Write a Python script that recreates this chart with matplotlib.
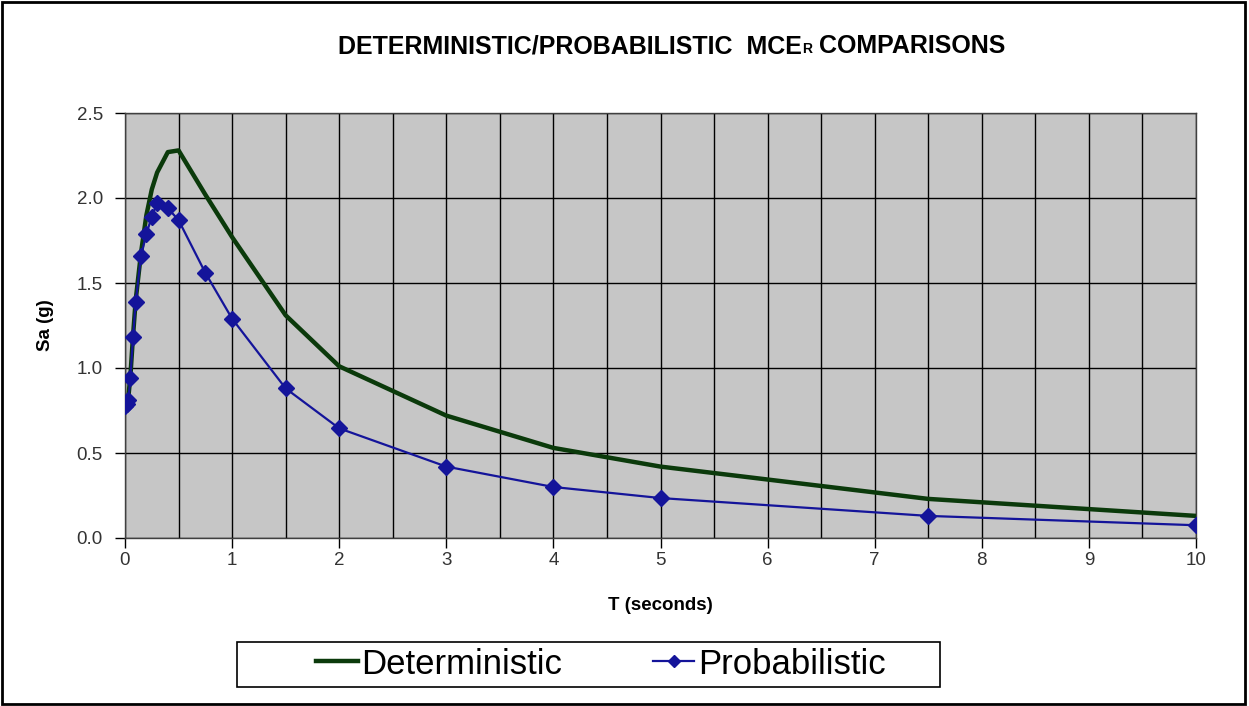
import matplotlib
matplotlib.use("Agg")
import matplotlib.pyplot as plt
from matplotlib.ticker import MultipleLocator
from matplotlib.patches import Rectangle

# Data
periods_det = [0.0, 0.02, 0.03, 0.05, 0.075, 0.1, 0.15, 0.2, 0.25, 0.3, 0.4, 0.5,
               0.75, 1.0, 1.5, 2.0, 3.0, 4.0, 5.0, 7.5, 10.0]
sa_det = [0.78, 0.79, 0.82, 0.95, 1.19, 1.40, 1.68, 1.90, 2.05, 2.15, 2.27, 2.28,
          2.02, 1.77, 1.31, 1.01, 0.72, 0.53, 0.42, 0.23, 0.13]
periods_prob = [0.0, 0.02, 0.03, 0.05, 0.075, 0.1, 0.15, 0.2, 0.25, 0.3, 0.4, 0.5,
                0.75, 1.0, 1.5, 2.0, 3.0, 4.0, 5.0, 7.5, 10.0]
sa_prob = [0.775, 0.79, 0.81, 0.94, 1.18, 1.39, 1.66, 1.79, 1.89, 1.97, 1.94, 1.87,
           1.56, 1.29, 0.88, 0.645, 0.42, 0.30, 0.235, 0.13, 0.075]
x_ticks = list(range(0, 11))
y_ticks = [0.0, 0.5, 1.0, 1.5, 2.0, 2.5]

plt.rcParams['font.family'] = ['Liberation Sans', 'DejaVu Sans']

W, H = 1249, 706
fig = plt.figure(figsize=(W/100, H/100), dpi=100)
ax = fig.add_axes([125/W, 1 - 538/H, (1196-125)/W, (538-113)/H])
ax.set_facecolor('#C6C6C6')

ax.plot(periods_det, sa_det, color='#0B3A0B', lw=3.2, label='Deterministic', zorder=3)
ax.plot(periods_prob, sa_prob, color='#14149A', lw=1.6, marker='D', ms=8,
        markerfacecolor='#14149A', markeredgecolor='#14149A', label='Probabilistic', zorder=4)

ax.set_xlim(0, 10)
ax.set_ylim(0, 2.5)
ax.set_xticks(x_ticks)
ax.set_yticks(y_ticks)
ax.set_yticklabels([f"{v:.1f}" for v in y_ticks])
ax.xaxis.set_minor_locator(MultipleLocator(0.5))
ax.grid(which='both', axis='x', color='black', lw=1.0, zorder=1)
ax.grid(which='major', axis='y', color='black', lw=1.0, zorder=1)
ax.tick_params(axis='x', which='minor', length=0)
ax.tick_params(axis='both', which='major', direction='out', length=7, width=1,
               labelsize=13.5, colors='black', labelcolor='#333333')
ax.tick_params(axis='x', pad=3)
ax.tick_params(axis='y', pad=9)
ax.set_axisbelow(True)
for s in ax.spines.values():
    s.set_color('#404040')
    s.set_linewidth(1)

ax.set_xlabel('T (seconds)', fontsize=13.5, fontweight='bold', labelpad=20)
ax.set_ylabel('Sa (g)', fontsize=13.5, fontweight='bold', labelpad=16)

# Title composed of pieces (small "R" after MCE, sitting on the baseline)
fig.canvas.draw()
renderer = fig.canvas.get_renderer()
title_y = 1 - 53/H
parts = [('DETERMINISTIC/PROBABILISTIC  MCE', 18),
         ('R', 10),
         (' COMPARISONS', 18)]
x0 = 338
for txt, size in parts:
    t = fig.text(x0/W, title_y, txt, fontsize=size, fontweight='bold',
                 ha='left', va='baseline')
    bb = t.get_window_extent(renderer)
    x0 += bb.width

# Legend (frame drawn separately to reproduce wide padding)
leg = fig.legend(loc='center', bbox_to_anchor=(601/W, 1 - 664/H), ncol=2,
                 fontsize=25, frameon=False,
                 handlelength=1.2, handletextpad=0.1, columnspacing=2.6,
                 borderpad=0.1, markerscale=0.8)
fig.patches.append(Rectangle((237/W, 1 - 687/H), (940-237)/W, 45/H,
                             transform=fig.transFigure, fill=False,
                             edgecolor='black', lw=1.2))

fig.patches.append(Rectangle((0.002, 0.003), 0.995, 0.994, transform=fig.transFigure,
                             fill=False, edgecolor='black', lw=2))

fig.savefig('out.png', dpi=100)
